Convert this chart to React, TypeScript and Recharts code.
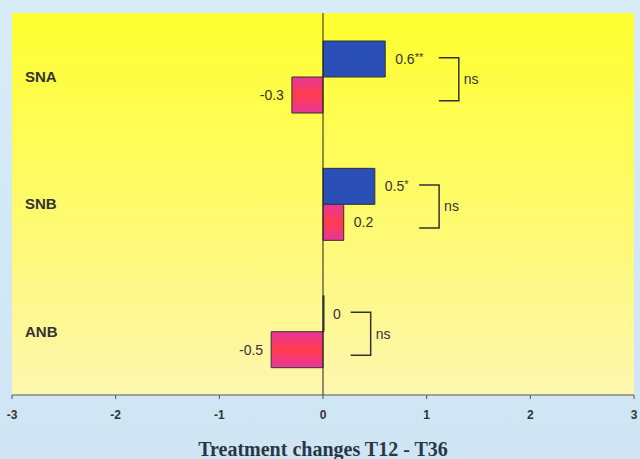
import {
  ComposedChart, Bar, Scatter, XAxis, YAxis, ReferenceLine, CartesianGrid, LabelList,
} from "recharts";

const categories = ["SNA", "SNB", "ANB"];
const firstChange = [0.6, 0.5, 0];
const secondChange = [-0.3, 0.2, -0.5];
const significance = ["**", "*", ""];
const bracketAt = [1.31, 1.12, 0.46];
const bracketText = ["ns", "ns", "ns"];
const xTicks = [-3, -2, -1, 0, 1, 2, 3];

const data = categories.map((name, i) => ({
  name,
  first: firstChange[i],
  second: secondChange[i],
  bracket: bracketAt[i],
  ns: bracketText[i],
}));

const ink = "#333333";
const sans = "Arial, Liberation Sans, sans-serif";

function ValueLabel(props: any) {
  const { x, y, width, height, value, index, withStars } = props;
  const v = Number(value);
  const neg = v < 0;
  // zero-length bars get a min size, so anchor at the bar's start
  const end = v === 0 ? Number(x) : Number(x) + Number(width);
  const stars = withStars ? significance[index] : "";
  return (
    <text
      x={neg ? end - 8 : end + 10}
      y={Number(y) + Number(height) / 2}
      dy="0.35em"
      textAnchor={neg ? "end" : "start"}
      fontFamily={sans}
      fontSize={14}
      fill={ink}
    >
      {String(value)}
      {stars && (
        <tspan fontSize={11} dy="-0.3em">{stars}</tspan>
      )}
    </text>
  );
}

function Bracket(props: any) {
  const { cx, cy, payload } = props;
  const top = cy - 19;
  const bottom = cy + 24;
  return (
    <g>
      <path
        d={`M${cx - 20},${top} H${cx} V${bottom} H${cx - 20}`}
        fill="none"
        stroke={ink}
        strokeWidth={1.5}
      />
      <text
        x={cx + 5}
        y={(top + bottom) / 2}
        dy="0.35em"
        fontFamily={sans}
        fontSize={14}
        fill={ink}
      >
        {payload.ns}
      </text>
    </g>
  );
}

function CategoryTick(props: any) {
  const { y, payload } = props;
  return (
    <text
      x={25}
      y={y}
      dy="0.35em"
      fontFamily={sans}
      fontWeight="bold"
      fontSize={15}
      fill={ink}
    >
      {payload.value}
    </text>
  );
}

export default function App() {
  return (
    <div
      style={{
        position: "absolute",
        left: 0,
        top: 0,
        width: 640,
        height: 459,
        background: "linear-gradient(180deg, #d8ecf8 0%, #cfe5f4 100%)",
      }}
    >
      <ComposedChart
        width={640}
        height={459}
        data={data}
        layout="vertical"
        barGap={0}
        barCategoryGap="22%"
        margin={{ top: 13, right: 6, left: 11, bottom: 0 }}
      >
        <defs>
          <linearGradient id="plotBg" x1="0" y1="0" x2="0" y2="1">
            <stop offset="0%" stopColor="#ffff30" />
            <stop offset="55%" stopColor="#fefa70" />
            <stop offset="100%" stopColor="#fdf6b0" />
          </linearGradient>
          <linearGradient id="pinkBar" x1="0" y1="0" x2="0" y2="1">
            <stop offset="0%" stopColor="#e8369a" />
            <stop offset="50%" stopColor="#ff3c4c" />
            <stop offset="100%" stopColor="#e8369a" />
          </linearGradient>
        </defs>
        <CartesianGrid horizontal={false} vertical={false} fill="url(#plotBg)" fillOpacity={1} />
        <XAxis
          type="number"
          domain={[-3, 3]}
          ticks={xTicks}
          height={64}
          tickSize={4}
          tickMargin={11}
          tick={{ fontSize: 12, fontWeight: "bold", fill: ink, fontFamily: sans }}
          stroke="#555555"
          label={{
            value: "Treatment changes T12 - T36",
            position: "insideBottom",
            offset: 3,
            fill: "#2a3646",
            fontSize: 20,
            fontWeight: "bold",
            fontFamily: "Liberation Serif, Times New Roman, serif",
          }}
        />
        <YAxis
          type="category"
          dataKey="name"
          width={1}
          axisLine={false}
          tickLine={false}
          tick={<CategoryTick />}
        />
        <ReferenceLine x={0} stroke="#222222" strokeWidth={1} />
        <Bar
          dataKey="first"
          fill="#2a4fb6"
          stroke={ink}
          strokeWidth={1}
          minPointSize={1}
          isAnimationActive={false}
        >
          <LabelList dataKey="first" content={<ValueLabel withStars />} />
        </Bar>
        <Bar dataKey="second" fill="url(#pinkBar)" stroke={ink} strokeWidth={1} isAnimationActive={false}>
          <LabelList dataKey="second" content={<ValueLabel />} />
        </Bar>
        <Scatter dataKey="bracket" shape={<Bracket />} isAnimationActive={false} />
      </ComposedChart>
    </div>
  );
}
